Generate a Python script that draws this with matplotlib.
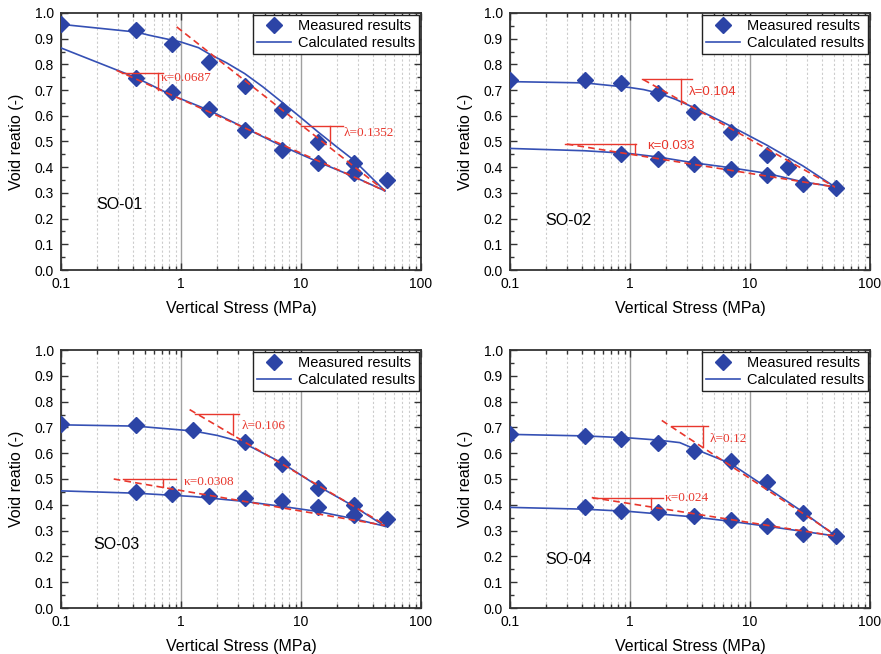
import numpy as np
import matplotlib
matplotlib.use("Agg")
from matplotlib import pyplot as plt
from matplotlib.ticker import LogLocator, FuncFormatter, MultipleLocator

plt.rcParams['font.family'] = ['Liberation Sans', 'DejaVu Sans']

# ---- data ----
names = ["SO-01", "SO-02", "SO-03", "SO-04"]

# measured, loading branch
load_x = [
    [0.1, 0.42, 0.84, 1.7, 3.4, 6.9, 13.8, 27.6, 51.7],
    [0.1, 0.42, 0.84, 1.7, 3.4, 6.9, 13.8, 20.7, 51.7],
    [0.1, 0.42, 1.27, 3.4, 6.9, 13.8, 27.6, 51.7],
    [0.1, 0.42, 0.84, 1.7, 3.4, 6.9, 13.8, 27.6, 51.7],
]
load_e = [
    [0.958, 0.933, 0.881, 0.808, 0.715, 0.622, 0.499, 0.415, 0.350],
    [0.738, 0.741, 0.728, 0.689, 0.615, 0.538, 0.447, 0.402, 0.320],
    [0.714, 0.710, 0.691, 0.644, 0.558, 0.467, 0.400, 0.346],
    [0.673, 0.667, 0.654, 0.640, 0.609, 0.571, 0.487, 0.368, 0.279],
]
# measured, unloading branch
unload_x = [
    [0.42, 0.84, 1.7, 3.4, 6.9, 13.8, 27.6],
    [0.84, 1.7, 3.4, 6.9, 13.8, 27.6],
    [0.42, 0.84, 1.7, 3.4, 6.9, 13.8, 27.6],
    [0.42, 0.84, 1.7, 3.4, 6.9, 13.8, 27.6],
]
unload_e = [
    [0.746, 0.693, 0.627, 0.544, 0.466, 0.418, 0.376],
    [0.451, 0.430, 0.412, 0.392, 0.369, 0.334],
    [0.449, 0.442, 0.436, 0.426, 0.413, 0.391, 0.362],
    [0.390, 0.377, 0.371, 0.355, 0.340, 0.317, 0.288],
]

# calculated curves
calc_load_x = [
    [0.1, 0.42, 0.55, 1.0, 1.4, 1.7, 2.4, 3.4, 4.8, 6.9, 9.8, 13.8, 19.5, 27.6, 50],
    [0.1, 0.42, 1.0, 1.3, 1.7, 2.4, 3.4, 6.9, 13.8, 27.6, 50],
    [0.1, 0.42, 1.27, 2.0, 2.6, 3.4, 6.9, 13.8, 27.6, 50],
    [0.1, 0.42, 1.0, 1.7, 2.6, 3.4, 6.9, 13.8, 27.6, 51.7],
]
calc_load_e = [
    [0.956, 0.926, 0.913, 0.887, 0.865, 0.842, 0.806, 0.764, 0.713, 0.654, 0.596,
     0.538, 0.482, 0.427, 0.308],
    [0.733, 0.728, 0.710, 0.702, 0.689, 0.664, 0.632, 0.560, 0.486, 0.405, 0.326],
    [0.710, 0.705, 0.686, 0.669, 0.655, 0.637, 0.563, 0.473, 0.394, 0.317],
    [0.673, 0.667, 0.659, 0.651, 0.641, 0.618, 0.560, 0.467, 0.372, 0.279],
]
calc_unload_x = [
    [0.1, 0.42, 0.84, 1.7, 3.4, 6.9, 13.8, 27.6, 50],
    [0.1, 0.42, 1.0, 1.7, 3.4, 6.9, 13.8, 27.6, 50],
    [0.1, 0.42, 1.27, 3.4, 6.9, 13.8, 27.6, 50],
    [0.1, 0.42, 1.0, 1.7, 3.4, 6.9, 13.8, 27.6, 51.7],
]
calc_unload_e = [
    [0.864, 0.749, 0.680, 0.622, 0.553, 0.483, 0.421, 0.363, 0.308],
    [0.473, 0.464, 0.453, 0.440, 0.417, 0.398, 0.376, 0.343, 0.324],
    [0.454, 0.445, 0.432, 0.413, 0.394, 0.374, 0.346, 0.317],
    [0.390, 0.383, 0.374, 0.365, 0.353, 0.336, 0.317, 0.297, 0.279],
]

# red dashed fitted lines (start, end)
lam_line_x = [[0.92, 50], [1.29, 51], [1.18, 50], [1.84, 51]]
lam_line_e = [[0.946, 0.308], [0.741, 0.323], [0.769, 0.323], [0.727, 0.285]]
kap_line_x = [[0.29, 50], [0.297, 51], [0.275, 50], [0.48, 51]]
kap_line_e = [[0.777, 0.308], [0.490, 0.323], [0.500, 0.320], [0.428, 0.279]]

# slope triangles: horizontal x range, top e, vertical x, bottom e, label pos
lam_tri = [
    ([9.94, 22.5], 0.561, 17.4, 0.486, (22.5, 0.534)),
    ([1.25, 3.27], 0.742, 2.66, 0.645, (3.1, 0.693)),
    ([1.31, 3.06], 0.751, 2.69, 0.669, (3.22, 0.704)),
    ([2.22, 4.5], 0.705, 4.03, 0.624, (4.64, 0.654)),
]
kap_tri = [
    ([0.32, 0.713], 0.768, 0.64, 0.702, (0.68, 0.747)),
    ([0.287, 1.12], 0.492, 1.1, 0.451, (1.38, 0.483)),
    ([0.328, 0.914], 0.499, 0.708, 0.470, (1.05, 0.490)),
    ([0.494, 1.9], 0.426, 1.5, 0.385, (1.95, 0.426)),
]
lam_text = ["λ=0.1352", "λ=0.104", "λ=0.106", "λ=0.12"]
kap_text = ["κ=0.0687", "κ=0.033", "κ=0.0308", "κ=0.024"]
anno_family = ["Liberation Serif", "Liberation Sans", "Liberation Serif", "Liberation Serif"]
name_pos = [(0.198, 0.253), (0.195, 0.194), (0.186, 0.246), (0.195, 0.188)]

# colours
mark_c = "#2c44a6"
line_c = "#3550b4"
red_c = "#e8372d"

W, H = 881, 654
fig = plt.figure(figsize=(W / 100, H / 100), dpi=100)
boxes = [(61, 13, 421, 270), (510, 13, 870, 270), (61, 350, 421, 608), (510, 350, 870, 608)]

for i in range(4):
    l, t, r, b = boxes[i]
    ax = fig.add_axes([l / W, 1 - b / H, (r - l) / W, (b - t) / H])
    ax.set_xscale("log")
    ax.set_xlim(0.1, 100)
    ax.set_ylim(0, 1.0)

    ax.grid(True, which="major", axis="x", color="#a0a0a0", lw=1.0, ls="-")
    ax.grid(True, which="minor", axis="x", color="#cccccc", lw=0.8, ls=(0, (2, 2)))

    # calculated
    ax.plot(calc_load_x[i], calc_load_e[i], color=line_c, lw=1.2, zorder=3,
            label="Calculated results")
    ax.plot(calc_unload_x[i], calc_unload_e[i], color=line_c, lw=1.2, zorder=3)
    # measured
    ax.plot(load_x[i], load_e[i], ls="none", marker="D", ms=7.8, color=mark_c,
            zorder=4, label="Measured results")
    ax.plot(unload_x[i], unload_e[i], ls="none", marker="D", ms=7.8, color=mark_c, zorder=4)

    # fitted slopes
    ax.plot(lam_line_x[i], lam_line_e[i], color=red_c, lw=1.2, ls=(0, (4, 2.5)), zorder=5)
    ax.plot(kap_line_x[i], kap_line_e[i], color=red_c, lw=1.2, ls=(0, (4, 2.5)), zorder=5)
    for tri, txt in ((lam_tri[i], lam_text[i]), (kap_tri[i], kap_text[i])):
        hx, top, vx, bot, (tx, ty) = tri
        ax.plot(hx, [top, top], color=red_c, lw=1.0, zorder=5)
        ax.plot([vx, vx], [top, bot], color=red_c, lw=1.0, zorder=5)
        ax.text(tx, ty, txt, color=red_c, fontsize=9.5, ha="left", va="center",
                family=[anno_family[i], "DejaVu Sans"])

    ax.text(name_pos[i][0], name_pos[i][1], names[i], fontsize=11.5, ha="left", va="center")

    ax.xaxis.set_major_locator(LogLocator(base=10, numticks=10))
    ax.xaxis.set_minor_locator(LogLocator(base=10, subs=np.arange(2, 10), numticks=20))
    ax.xaxis.set_major_formatter(FuncFormatter(lambda v, p: "%g" % v))
    ax.xaxis.set_minor_formatter(FuncFormatter(lambda v, p: ""))
    ax.yaxis.set_major_locator(MultipleLocator(0.1))
    ax.yaxis.set_minor_locator(MultipleLocator(0.05))
    ax.yaxis.set_major_formatter(FuncFormatter(lambda v, p: "%.1f" % v))
    ax.tick_params(which="both", direction="in", top=True, right=True, labelsize=10,
                   color="#333333", width=1.0, pad=5)
    ax.tick_params(which="major", length=5)
    ax.tick_params(which="minor", length=3)
    for s in ax.spines.values():
        s.set_linewidth(1.3)
        s.set_color("#333333")

    ax.set_xlabel("Vertical Stress (MPa)", fontsize=11.5, labelpad=7.5)
    ax.set_ylabel("Void reatio (-)", fontsize=11.5, labelpad=8)

    h, lb = ax.get_legend_handles_labels()
    leg = ax.legend([h[1], h[0]], [lb[1], lb[0]], loc="upper right", fontsize=10.5,
                    fancybox=False, framealpha=1, edgecolor="#222222",
                    borderaxespad=0.15, borderpad=0.25, labelspacing=0.25,
                    handlelength=2.3, handletextpad=0.5)
    leg.get_frame().set_linewidth(1.0)

fig.savefig("out.png", dpi=100)
